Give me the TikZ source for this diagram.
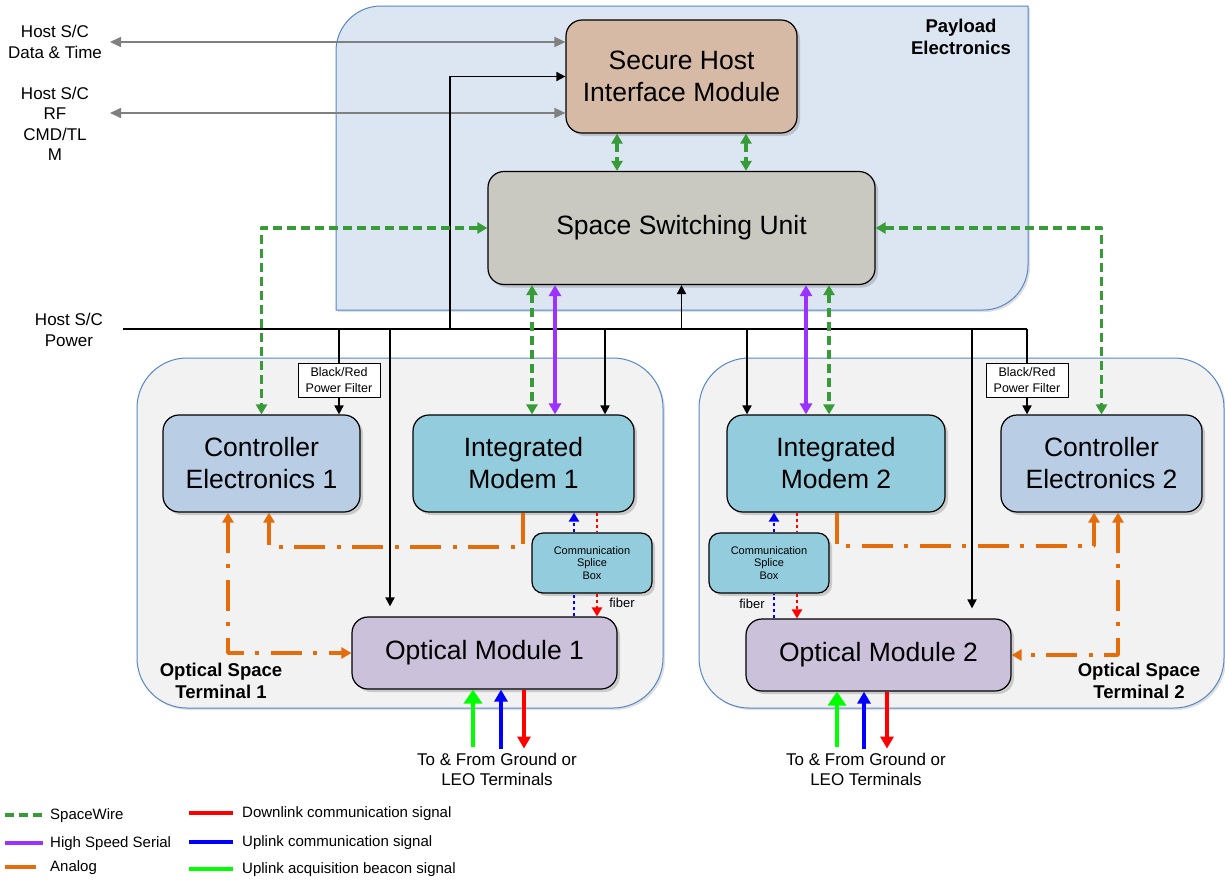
\documentclass[tikz,border=0pt]{standalone}
\usepackage{fontspec}
\setmainfont{Liberation Sans}
\usetikzlibrary{arrows.meta,shadows}
\definecolor{paybg}{RGB}{220,230,242}
\definecolor{payedge}{RGB}{85,135,200}
\definecolor{termbg}{RGB}{242,242,242}
\definecolor{shimfill}{RGB}{215,186,165}
\definecolor{ssufill}{RGB}{201,201,193}
\definecolor{cefill}{RGB}{185,205,229}
\definecolor{imfill}{RGB}{147,205,221}
\definecolor{omfill}{RGB}{204,193,218}
\definecolor{swgreen}{RGB}{55,155,55}
\definecolor{hsspurple}{RGB}{155,50,255}
\definecolor{anorange}{RGB}{228,108,10}
\definecolor{hostgray}{RGB}{128,128,128}
\begin{document}
\begin{tikzpicture}[x=1pt,y=-1pt,line join=round,>={Triangle[length=9pt,width=9pt]},
	unit/.style={draw,line width=1.2pt,rounded corners=16pt,inner sep=0pt,align=center,drop shadow={shadow xshift=3pt,shadow yshift=-3pt,opacity=.35},font=\fontsize{26.5}{32}\selectfont},
	splice/.style={unit,fill=imfill,rounded corners=11pt,minimum width=120pt,minimum height=60pt,font=\fontsize{11}{12.5}\selectfont},
	pfilter/.style={draw,fill=white,line width=.8pt,inner sep=0pt,minimum width=82pt,minimum height=34pt,align=center,font=\fontsize{12.5}{16}\selectfont},
	terminal/.style={draw=payedge,fill=termbg,line width=1pt,rounded corners=50pt,minimum width=526pt,minimum height=350pt,drop shadow={shadow xshift=2pt,shadow yshift=-2pt,opacity=.25}},
	payload/.style={draw=payedge,fill=paybg,line width=1pt,drop shadow={shadow xshift=2pt,shadow yshift=-2pt,opacity=.25}},
	boldlbl/.style={align=center,inner sep=0pt,font=\bfseries\fontsize{18.5}{22}\selectfont},
	hostlbl/.style={align=center,inner sep=0pt,font=\fontsize{17}{20.5}\selectfont},
	gndlbl/.style={align=center,inner sep=0pt,font=\fontsize{17}{20}\selectfont},
	smalllbl/.style={inner sep=0pt,font=\fontsize{13}{15}\selectfont},
	legtxt/.style={anchor=west,inner sep=0pt,text height=11pt,text depth=3pt,font=\fontsize{15}{18}\selectfont},
	hostline/.style={hostgray,line width=1.6pt,{Triangle[length=11pt,width=10pt]}-{Triangle[length=11pt,width=10pt]}},
	pline/.style={line width=1.8pt},
	sw/.style={swgreen,line width=3.4pt,dash pattern=on 9pt off 5pt,>={Triangle[length=10pt,width=11pt]}},
	hss/.style={hsspurple,line width=3.6pt,>={Triangle[length=11pt,width=12pt]}},
	analog/.style={anorange,line width=3.4pt,dash pattern=on 31pt off 11pt on 4pt off 12pt,>={Triangle[length=10pt,width=11pt]}},
	fibre/.style={line width=2.8pt,dash pattern=on 3pt off 3pt,>={Triangle[length=9pt,width=10pt]}},
	downlink/.style={red,line width=3.2pt,>={Triangle[length=12pt,width=13pt]}},
	uplink/.style={blue,line width=3.2pt,>={Triangle[length=12pt,width=13pt]}},
	beacon/.style={green,line width=4pt,>={Triangle[length=14pt,width=18pt]}}]
	\useasboundingbox (0,0) rectangle (1225,879);
	\draw[payload] (336,310) -- (336,51) arc[start angle=180,end angle=270,radius=45] -- (1028,6) -- (1028,265) arc[start angle=0,end angle=90,radius=45] -- cycle;
	\node[boldlbl] (paylbl) at (961,37) {Payload\\Electronics};
	\node[terminal] (ost1) at (400,533) {};
	\node[terminal,minimum width=525pt] (ost2) at (961.5,533) {};
	\node[boldlbl] (ost1lbl) at (221,681) {Optical Space\\Terminal 1};
	\node[boldlbl] (ost2lbl) at (1139,681) {Optical Space\\Terminal 2};

	\node[unit,fill=shimfill,minimum width=231pt,minimum height=113pt] (shim) at (681.5,76.5) {Secure Host\\Interface Module};
	\node[unit,fill=ssufill,minimum width=387pt,minimum height=113pt] (ssu) at (681.5,228) {Space Switching Unit};
	\node[unit,fill=cefill,minimum width=197pt,minimum height=97pt] (ce1) at (261.5,463.5) {Controller\\Electronics 1};
	\node[unit,fill=imfill,minimum width=221pt,minimum height=97pt] (im1) at (523.5,463.5) {Integrated\\Modem 1};
	\node[unit,fill=omfill,minimum width=265pt,minimum height=72pt] (om1) at (484.5,653) {Optical Module 1};
	\node[splice] (splice1) at (592,563) {Communication\\Splice\\Box};
	\node[pfilter] (pf1) at (339,380) {Black/Red\\Power Filter};
	\node[unit,fill=imfill,minimum width=218pt,minimum height=97pt] (im2) at (836,463.5) {Integrated\\Modem 2};
	\node[unit,fill=cefill,minimum width=201pt,minimum height=97pt] (ce2) at (1101.5,463.5) {Controller\\Electronics 2};
	\node[unit,fill=omfill,minimum width=265pt,minimum height=72pt] (om2) at (878.5,655) {Optical Module 2};
	\node[splice] (splice2) at (769,563) {Communication\\Splice\\Box};
	\node[pfilter] (pf2) at (1027,380) {Black/Red\\Power Filter};

	\node[hostlbl] (hostdt) at (55,42) {Host S/C\\Data \& Time};
	\node[hostlbl] (hostrf) at (55,124) {Host S/C\\RF\\CMD/TL\\M};
	\node[hostlbl] (hostpwr) at (69,330) {Host S/C\\Power};
	\coordinate (dtin) at (110,42);
	\coordinate (rfin) at (110,113);
	\coordinate (bus) at (123,329);
	\coordinate (busend) at (1027,329);

	\draw[hostline] (dtin) -- (shim.west |- dtin);
	\draw[hostline] (rfin) -- (shim.west |- rfin);
	\draw[pline] (bus) -- (busend);
	\draw[pline,->] (450,0 |- bus) |- (shim.west);
	\draw[pline,->] (ssu.south |- bus) -- (ssu.south);
	\draw[pline] (pf1.north |- bus) -- (pf1.north);
	\draw[pline,->] (pf1.south) -- (pf1.south |- ce1.north);
	\draw[pline,->,shorten >=10pt] (390,0 |- bus) -- (390,0 |- om1.north);
	\draw[pline,->] (605,0 |- bus) -- (605,0 |- im1.north);
	\draw[pline,->] (747,0 |- bus) -- (747,0 |- im2.north);
	\draw[pline,->,shorten >=10pt] (972,0 |- bus) -- (972,0 |- om2.north);
	\draw[pline] (busend) -- (pf2.north);
	\draw[pline,->] (pf2.south) -- (pf2.south |- ce2.north);

	\draw[sw,<->] (617,0 |- shim.south) -- (617,0 |- ssu.north);
	\draw[sw,<->] (746,0 |- shim.south) -- (746,0 |- ssu.north);
	\draw[sw,<->] (ssu.west) -| (ce1.north);
	\draw[sw,<->] (ssu.east) -| (ce2.north);
	\draw[sw,<->] (532,0 |- ssu.south) -- (532,0 |- im1.north);
	\draw[hss,<->] (555,0 |- ssu.south) -- (555,0 |- im1.north);
	\draw[hss,<->] (806,0 |- ssu.south) -- (806,0 |- im2.north);
	\draw[sw,<->] (829,0 |- ssu.south) -- (829,0 |- im2.north);

	\draw[analog,->] (523,0 |- im1.south) -- (523,547) -| (269,0 |- ce1.south);
	\draw[analog,<->] (228,0 |- ce1.south) |- (om1.west);
	\draw[analog,->] (837,0 |- im2.south) -- (837,546) -| (1094,0 |- ce2.south);
	\draw[analog,<->] (1118,0 |- ce2.south) |- (om2.east);

	\draw[fibre,blue,->] (574,0 |- splice1.north) -- (574,0 |- im1.south);
	\draw[fibre,blue] (574,0 |- om1.north) -- (574,0 |- splice1.south);
	\draw[fibre,red] (597,0 |- im1.south) -- (597,0 |- splice1.north);
	\draw[fibre,red,->] (597,0 |- splice1.south) -- (597,0 |- om1.north);
	\draw[fibre,blue,->] (774,0 |- splice2.north) -- (774,0 |- im2.south);
	\draw[fibre,blue] (774,0 |- om2.north) -- (774,0 |- splice2.south);
	\draw[fibre,red] (797,0 |- im2.south) -- (797,0 |- splice2.north);
	\draw[fibre,red,->] (797,0 |- splice2.south) -- (797,0 |- om2.north);
	\node[smalllbl] (fib1) at (622,603) {fiber};
	\node[smalllbl] (fib2) at (752,604) {fiber};

	\node[gndlbl] (gnd1) at (497,769) {To \& From Ground or\\LEO Terminals};
	\node[gndlbl] (gnd2) at (866,769) {To \& From Ground or\\LEO Terminals};
	\draw[beacon,->,shorten <=6pt] (473,0 |- gnd1.north) -- (473,0 |- om1.south);
	\draw[uplink,->,shorten <=4pt] (501,0 |- gnd1.north) -- (501,0 |- om1.south);
	\draw[downlink,->,shorten >=4pt] (524,0 |- om1.south) -- (524,0 |- gnd1.north);
	\draw[beacon,->,shorten <=6pt] (837,0 |- gnd2.north) -- (837,0 |- om2.south);
	\draw[uplink,->,shorten <=4pt] (864,0 |- gnd2.north) -- (864,0 |- om2.south);
	\draw[downlink,->,shorten >=4pt] (887,0 |- om2.south) -- (887,0 |- gnd2.north);

	\node[legtxt] (lgsw) at (50,815) {SpaceWire};
	\node[legtxt] (lghss) at (50,843) {High Speed Serial};
	\node[legtxt] (lgan) at (50,867) {Analog};
	\node[legtxt] (lgdl) at (242,813) {Downlink communication signal};
	\node[legtxt] (lgul) at (242,842) {Uplink communication signal};
	\node[legtxt] (lgbc) at (242,869) {Uplink acquisition beacon signal};
	\draw[sw] ([xshift=-45pt]lgsw.west) -- ([xshift=-7pt]lgsw.west);
	\draw[hss,line width=4pt] ([xshift=-45pt]lghss.west) -- ([xshift=-7pt]lghss.west);
	\draw[analog,solid,line width=4pt] ([xshift=-45pt]lgan.west) -- ([xshift=-14pt]lgan.west);
	\draw[downlink,line width=4.5pt] ([xshift=-53pt]lgdl.west) -- ([xshift=-9pt]lgdl.west);
	\draw[uplink,line width=4.5pt] ([xshift=-53pt]lgul.west) -- ([xshift=-9pt]lgul.west);
	\draw[beacon,line width=4.5pt] ([xshift=-53pt]lgbc.west) -- ([xshift=-9pt]lgbc.west);
\end{tikzpicture}
\end{document}
